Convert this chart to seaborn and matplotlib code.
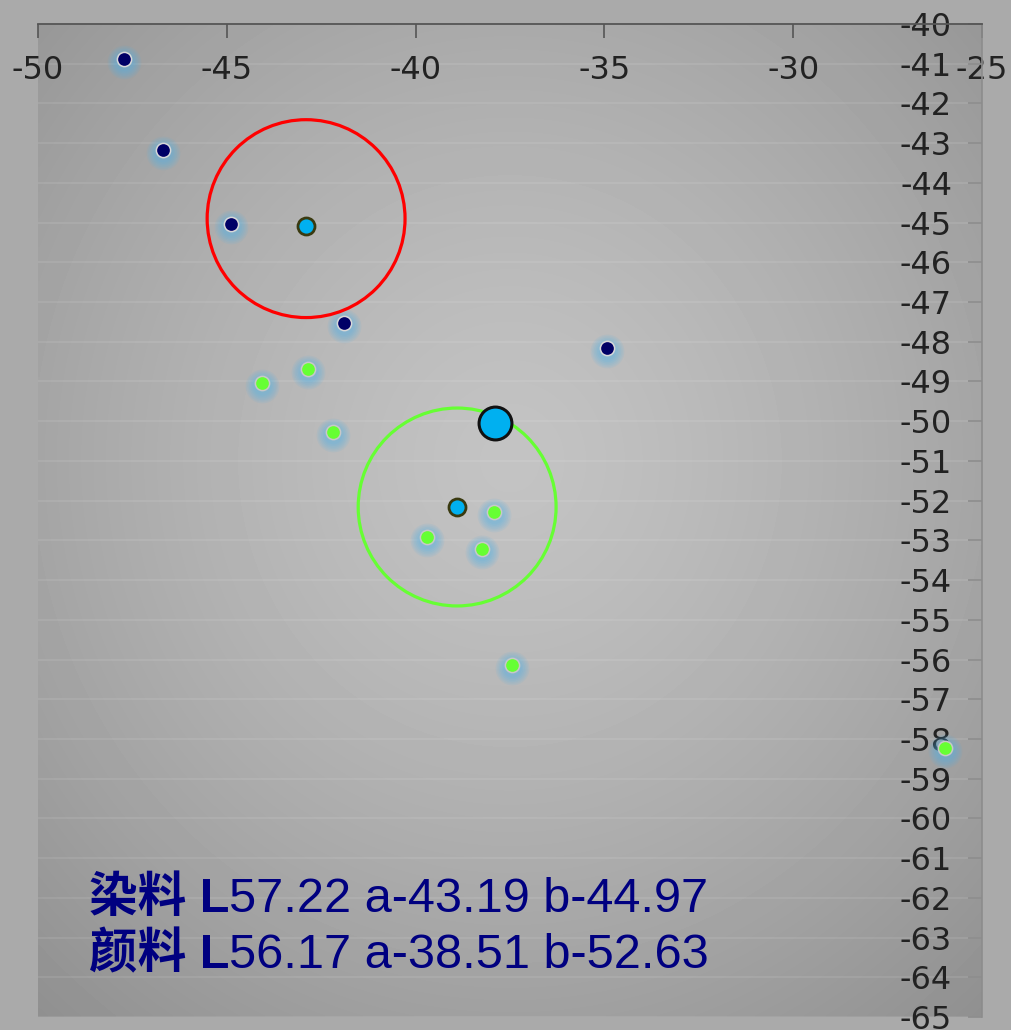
import matplotlib
matplotlib.use('Agg')
import numpy as np
import pandas as pd
import matplotlib.pyplot as plt
import seaborn as sns
from matplotlib.transforms import offset_copy

plt.rcParams['axes.unicode_minus'] = False

# dye samples (a, b)
dye_a = [-47.72, -46.69, -44.89, -41.90, -34.93]
dye_b = [-40.88, -43.17, -45.04, -47.53, -48.16]
# pigment samples (a, b)
pig_a = [-44.07, -42.85, -42.19, -39.70, -37.92, -38.24, -37.45, -25.98]
pig_b = [-49.04, -48.69, -50.27, -52.92, -52.29, -53.22, -56.14, -58.23]
# group centres and rings
center_a = [-42.90, -38.90]
center_b = [-45.09, -52.16]
ring_a = [-42.90, -38.90]
ring_b = [-44.90, -52.16]
ring_colors = ['#ff0000', '#66ff33']
# target colour
target_a = [-37.90]
target_b = [-50.05]

x_ticks = list(range(-50, -24, 5))
y_ticks = list(range(-65, -39, 1))
labels = [("染料 L", "57.22 a-43.19 b-44.97"),
          ("颜料 L", "56.17 a-38.51 b-52.63")]

dye = pd.DataFrame({'a': dye_a, 'b': dye_b})
pig = pd.DataFrame({'a': pig_a, 'b': pig_b})

fig = plt.figure(figsize=(10.12, 10.30), dpi=100, facecolor='#aaaaaa')
ax = fig.add_axes([38 / 1012, 13 / 1030, 944 / 1012, 993 / 1030])

# radial gradient background
gx, gy = np.meshgrid(np.linspace(0, 1, 300), np.linspace(0, 1, 300))
r = np.sqrt(((gx - 0.50) / 0.72) ** 2 + ((gy - 0.56) / 0.72) ** 2)
shade = 0.765 - 0.19 * np.clip(r, 0, 1.2) ** 1.3
ax.imshow(shade, cmap='gray', vmin=0, vmax=1, extent=(0, 1, 0, 1),
          transform=ax.transAxes, origin='lower', aspect='auto', zorder=0,
          interpolation='bilinear')

for yv in y_ticks:
    ax.axhline(yv, color='white', alpha=0.10, lw=1.2, zorder=1)

# glow behind sample points
glow_tr = offset_copy(ax.transData, fig=fig, x=0, y=-3, units='dots')
for k in range(6):
    s = 110 * (1 + 0.22 * (k + 1)) ** 2
    for df in (dye, pig):
        sns.scatterplot(data=df, x='a', y='b', s=s, color='#4fb3ea', alpha=0.10,
                        linewidth=0, transform=glow_tr, ax=ax, zorder=2, legend=False)

sns.scatterplot(data=dye, x='a', y='b', s=105, color='#000066', edgecolor='#d8d8d8',
                linewidth=1.1, ax=ax, zorder=4, legend=False)
sns.scatterplot(data=pig, x='a', y='b', s=105, color='#66ff33', edgecolor='#c8c8c8',
                linewidth=1.1, ax=ax, zorder=4, legend=False)

for xa, yb, c in zip(ring_a, ring_b, ring_colors):
    sns.scatterplot(x=[xa], y=[yb], s=20300, facecolor='none', edgecolor=c,
                    linewidth=2.3, ax=ax, zorder=3, legend=False)

sns.scatterplot(x=center_a, y=center_b, s=150, color='#00b0f0', edgecolor='#3a3a10',
                linewidth=2.0, ax=ax, zorder=5, legend=False)
sns.scatterplot(x=target_a, y=target_b, s=560, color='#00b0f0', edgecolor='#111111',
                linewidth=2.2, ax=ax, zorder=5, legend=False)

ax.set_xlim(-50, -25)
ax.set_ylim(-65, -40)
ax.set_xlabel('')
ax.set_ylabel('')
ax.set_facecolor('none')

ax.set_xticks(x_ticks)
ax.set_yticks(y_ticks)
ax.xaxis.tick_top()
ax.yaxis.tick_right()
ax.tick_params(axis='x', direction='in', length=10, width=1.2, color='#555555',
               labelsize=23, labelcolor='#222222', pad=-44.5)
ax.tick_params(axis='y', direction='in', length=10, width=1.2, color='#8c8c8c',
               labelsize=23, labelcolor='#222222', pad=-21.6)
for lab in ax.get_yticklabels():
    lab.set_horizontalalignment('right')

for side in ('left', 'bottom'):
    ax.spines[side].set_visible(False)
ax.spines['top'].set_color('#555555')
ax.spines['top'].set_linewidth(1.3)
ax.spines['right'].set_color('#8c8c8c')
ax.spines['right'].set_linewidth(1.2)

baselines = [912, 968]
for (bold_part, rest), by in zip(labels, baselines):
    t = fig.text(89 / 1012, 1 - by / 1030, bold_part, fontsize=35, fontweight='bold',
                 family=['Liberation Sans', 'Noto Sans CJK SC'], color='#000080',
                 va='baseline', ha='left')
    ax.annotate(rest, xy=(1, 0), xycoords=t, va='bottom', ha='left', fontsize=35,
                family=['Liberation Sans'], color='#000080',
                annotation_clip=False)

plt.savefig('out.png', dpi=100, facecolor=fig.get_facecolor())
plt.close()
